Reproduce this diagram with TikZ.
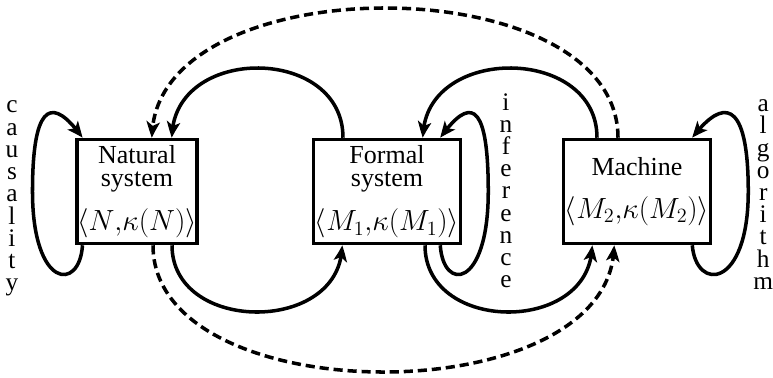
\documentclass[tikz,border=0pt]{standalone}
\usepackage{fontspec}
\setmainfont{Liberation Serif}
\usetikzlibrary{arrows.meta,bending}

\newcommand{\kpair}[1]{{\fontsize{20.74}{20}\selectfont$\langle #1{,}\kappa(#1)\rangle$}}

\begin{document}
\begin{tikzpicture}[>={Stealth[length=11.5pt,width=9.5pt,inset=3pt,bend]},
    line width=2.5pt,
    sysbox/.style={draw, rectangle, minimum height=2.6cm, inner sep=0pt,
      align=center, font=\fontsize{18.5}{16.5}\selectfont},
    vword/.style={inner sep=0pt, align=center,
      font=\fontsize{18}{15.8}\selectfont},
    dashflow/.style={->, dash pattern=on 6.5pt off 3.5pt}]
  \useasboundingbox (0,0) rectangle (19.325,9.425);

  % the three systems
  \node[sysbox, minimum width=2.975cm] (nat) at (3.425,4.6375)
    {Natural\\system\\[11pt]\kpair{N}};
  \node[sysbox, minimum width=3.675cm] (form) at (9.675,4.6375)
    {Formal\\system\\[11pt]\kpair{M_1}};
  \node[sysbox, minimum width=3.675cm] (mach) at (15.925,4.6375)
    {Machine\\[14pt]\kpair{M_2}};

  % loop labels
  \node[vword] (caus) at (0.3,4.46) {c\\a\\u\\s\\a\\l\\i\\t\\y};
  \node[vword] (infer) at (12.65,4.66) {i\\n\\f\\e\\r\\e\\n\\c\\e};
  \node[vword] (algo) at (19.08,4.56) {a\\l\\g\\o\\r\\i\\t\\h\\m};

  % causality loop
  \draw[->] ([xshift=0.175cm]nat.south west)
      .. controls +(-0.075,-1.175) and +(0,-2.425) .. ([xshift=-1.075cm]nat.west)
      .. controls +(0,2.25) and +(-0.75,1.05) .. ([xshift=0.175cm]nat.north west);
  % inference loop
  \draw[->] ([xshift=-0.55cm]form.south east)
      .. controls +(0.075,-1.175) and +(0,-2.425) .. ([xshift=0.65cm]form.east)
      .. controls +(0,2.25) and +(0.75,1.05) .. ([xshift=-0.55cm]form.north east);
  % algorithm loop
  \draw[->] ([xshift=-0.5cm]mach.south east)
      .. controls +(0.1,-1.175) and +(0,-2.425) .. ([xshift=0.9cm]mach.east)
      .. controls +(0,2.25) and +(0.8,1.05) .. ([xshift=-0.5cm]mach.north east);

  % encoding and decoding arcs
  \draw[->] ([xshift=0.875cm]nat.south)
      .. controls +(0,-2.225) and +(0,-2.225) .. ([xshift=-1.125cm]form.south);
  \draw[->] ([xshift=-1.1cm]form.north)
      .. controls +(0,2.325) and +(0,2.325) .. ([xshift=0.875cm]nat.north);
  \draw[->] ([xshift=0.95cm]form.south)
      .. controls +(0,-2.225) and +(0,-2.225) .. ([xshift=-1.125cm]mach.south);
  \draw[->] ([xshift=-1.0cm]mach.north)
      .. controls +(0,2.325) and +(0,2.325) .. ([xshift=0.9cm]form.north);

  % direct arcs between nature and machine
  \draw[dashflow] ([xshift=0.4cm]nat.south)
      .. controls +(0,-4.225) and +(0,-4.225) .. ([xshift=-0.575cm]mach.south);
  \draw[dashflow] ([xshift=-0.475cm]mach.north)
      .. controls +(0,4.325) and +(0,4.325) .. ([xshift=0.375cm]nat.north);
\end{tikzpicture}
\end{document}
